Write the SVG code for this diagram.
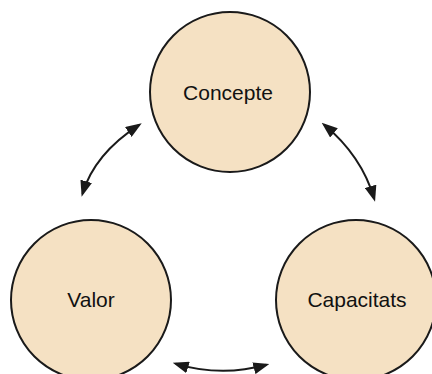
<svg xmlns="http://www.w3.org/2000/svg" width="432" height="374" viewBox="0 0 432 374">
<style>
.node{fill:#f5e1c3;stroke:#1a1a1a;stroke-width:2}
.lbl{font-family:"Liberation Sans",Arial,sans-serif;font-size:21px;fill:#111;text-anchor:middle;dominant-baseline:central}
.edge{fill:none;stroke:#1a1a1a;stroke-width:2}
</style>
<defs>
<marker id="ah" viewBox="0 0 16 12" markerWidth="16" markerHeight="12" markerUnits="userSpaceOnUse" refX="13" refY="6" orient="auto-start-reverse">
<path d="M0,0 L16,6 L0,12 z" fill="#1a1a1a"/>
</marker>
</defs>
<rect width="432" height="374" fill="#ffffff"/>
<g id="concepte">
<circle class="node" cx="230" cy="92" r="80"/>
<text class="lbl" x="228" y="92">Concepte</text>
</g>
<g id="valor">
<circle class="node" cx="91" cy="300" r="80"/>
<text class="lbl" x="91" y="299">Valor</text>
</g>
<g id="capacitats">
<circle class="node" cx="356" cy="300" r="80"/>
<text class="lbl" x="357" y="299">Capacitats</text>
</g>
<g id="connectors">
<path class="edge" d="M82.5,193.8 Q94.3,154 139.2,124.9" marker-start="url(#ah)" marker-end="url(#ah)"/>
<path class="edge" d="M324,124.6 Q361.7,156 374.2,198.8" marker-start="url(#ah)" marker-end="url(#ah)"/>
<path class="edge" d="M175.6,363.6 Q221,377.5 266.4,364.8" marker-start="url(#ah)" marker-end="url(#ah)"/>
</g>
</svg>
